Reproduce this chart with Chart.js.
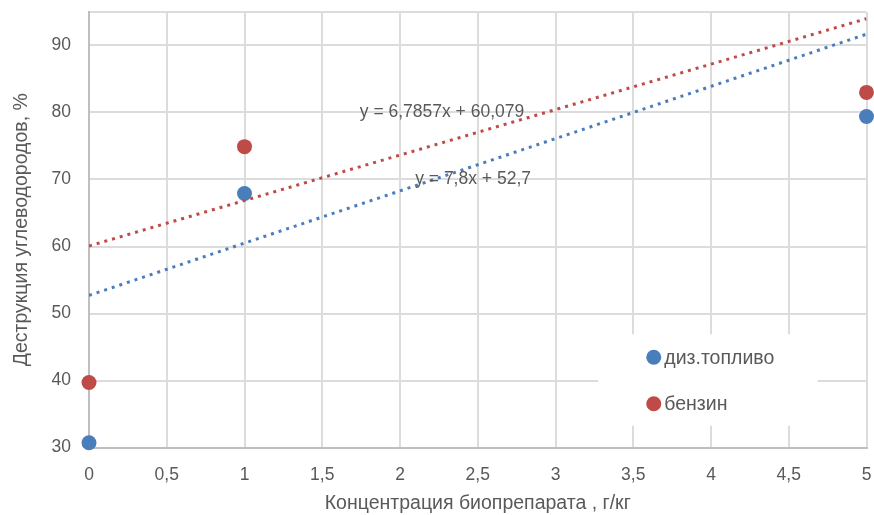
<!DOCTYPE html>
<html>
<head>
<meta charset="utf-8">
<script src="https://cdn.jsdelivr.net/npm/chart.js@4"></script>
<style>
  body { margin: 0; background: #fff; }
  #wrap { width: 874px; height: 515px; }
</style>
</head>
<body>
<div id="wrap"><canvas id="myChart" width="874" height="515"></canvas></div>
<script>
const seriesNames = ['диз.топливо', 'бензин'];
const conc = [0, 1, 5];
const dieselVals = [30.7, 67.9, 79.4];
const petrolVals = [39.7, 74.9, 83.0];

// линии тренда (значения на краях, как на картинке)
const trendX = [0, 5];
const dieselTrend = [52.7, 91.7];
const petrolTrend = [60.079, 94.0];
const trendLabels = ['y = 7,8x + 52,7', 'y = 6,7857x + 60,079'];
const trendLabelPos = [[2.47, 70], [2.27, 80]];

const blue = '#4a7ebb';
const red = '#be4b48';
const textColor = '#595959';
const fontFamily = "'Liberation Sans', Arial, sans-serif";

const toPoints = (xs, ys) => xs.map((x, i) => ({ x: x, y: ys[i] }));
const comma = (v) => String(v).replace('.', ',');

const trendText = {
  id: 'trendText',
  afterDatasetsDraw(chart) {
    const ctx = chart.ctx;
    const xs = chart.scales.x;
    const ys = chart.scales.y;
    ctx.save();
    ctx.font = `17.5px ${fontFamily}`;
    ctx.fillStyle = textColor;
    ctx.textAlign = 'center';
    ctx.textBaseline = 'middle';
    trendLabels.forEach((t, i) => {
      ctx.fillText(t, xs.getPixelForValue(trendLabelPos[i][0]), ys.getPixelForValue(trendLabelPos[i][1]));
    });
    ctx.restore();
  }
};

const innerLegend = {
  id: 'innerLegend',
  afterDraw(chart) {
    const ctx = chart.ctx;
    const area = chart.chartArea;
    const w = area.right - area.left;
    const h = area.bottom - area.top;
    const left = area.left + w * 0.655;
    const top = area.top + h * 0.74;
    ctx.save();
    ctx.fillStyle = '#fff';
    ctx.fillRect(left, top, w * 0.282, h * 0.21);
    ctx.font = `19.5px ${fontFamily}`;
    ctx.textBaseline = 'middle';
    ctx.textAlign = 'left';
    [0, 1].forEach((i) => {
      const ds = chart.data.datasets[i];
      const cy = top + 23 + i * 46.5;
      ctx.fillStyle = ds.backgroundColor;
      ctx.beginPath();
      ctx.arc(left + 55.5, cy, 7.5, 0, Math.PI * 2);
      ctx.fill();
      ctx.fillStyle = textColor;
      ctx.fillText(ds.label, left + 66, cy + 1);
    });
    ctx.restore();
  }
};

const config = {
  type: 'scatter',
  data: {
    datasets: [
      {
        label: seriesNames[0],
        data: toPoints(conc, dieselVals),
        backgroundColor: blue,
        borderColor: blue,
        borderWidth: 0,
        pointRadius: 7.5,
        pointHoverRadius: 7.5,
        clip: false,
        order: 2
      },
      {
        label: seriesNames[1],
        data: toPoints(conc, petrolVals),
        backgroundColor: red,
        borderColor: red,
        borderWidth: 0,
        pointRadius: 7.5,
        pointHoverRadius: 7.5,
        clip: false,
        order: 2
      },
      {
        label: 'trend1',
        data: toPoints(trendX, dieselTrend),
        showLine: true,
        borderColor: blue,
        borderWidth: 3,
        borderDash: [3, 5],
        pointRadius: 0,
        order: 1
      },
      {
        label: 'trend2',
        data: toPoints(trendX, petrolTrend),
        showLine: true,
        borderColor: red,
        borderWidth: 3,
        borderDash: [3, 5],
        pointRadius: 0,
        order: 1
      }
    ]
  },
  options: {
    responsive: false,
    animation: false,
    layout: { padding: { top: 12, right: 4, left: 0, bottom: 0 } },
    plugins: {
      legend: { display: false },
      tooltip: { enabled: false }
    },
    scales: {
      x: {
        type: 'linear',
        min: 0,
        max: 5,
        ticks: {
          stepSize: 0.5,
          padding: 17,
          color: textColor,
          font: { family: fontFamily, size: 17.5 },
          callback: (v) => comma(v)
        },
        grid: { color: '#dcdcdc', lineWidth: 2, drawTicks: false },
        border: { color: '#bfbfbf', width: 2 },
        title: {
          display: true,
          text: 'Концентрация биопрепарата , г/кг',
          color: textColor,
          font: { family: fontFamily, size: 19.5 },
          padding: { top: 0, bottom: 0 }
        },
        afterFit: (scale) => {
          scale.height = 67.5;
          scale.paddingLeft = 0;
          scale.paddingRight = 0;
        }
      },
      y: {
        min: 30,
        max: 95,
        ticks: {
          stepSize: 10,
          padding: 18,
          color: textColor,
          font: { family: fontFamily, size: 17.5 },
          callback: (v) => (v % 10 === 0 ? v : '')
        },
        grid: { color: '#dcdcdc', lineWidth: 2, drawTicks: false },
        border: { color: '#bfbfbf', width: 2 },
        title: {
          display: true,
          text: 'Деструкция углеводородов, %',
          color: textColor,
          font: { family: fontFamily, size: 19.5 },
          padding: { top: 10, bottom: 0 }
        },
        afterFit: (scale) => {
          scale.width = 89;
          scale.paddingTop = 0;
          scale.paddingBottom = 0;
        }
      }
    }
  },
  plugins: [trendText, innerLegend]
};

window.onload = () => {
  new Chart(document.getElementById('myChart'), config);
};
</script>
</body>
</html>
